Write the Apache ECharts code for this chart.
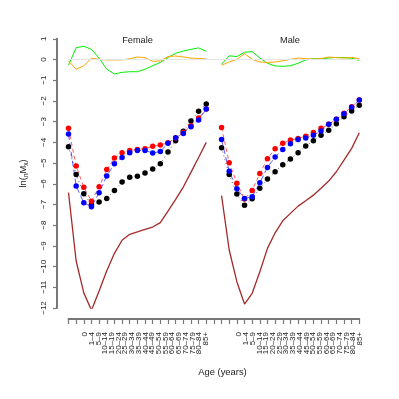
<!DOCTYPE html>
<html>
<head>
<meta charset="utf-8">
<script src="https://cdn.jsdelivr.net/npm/echarts@6/dist/echarts.min.js"></script>
<style>
  html, body { margin: 0; padding: 0; background: #fff; }
  #chart { width: 399px; height: 399px; }
</style>
</head>
<body>
<div id="chart"></div>
<script>
// age groups
var ages = ['0','1\u20134','5\u20139','10\u201314','15\u201319','20\u201324','25\u201329','30\u201334','35\u201339',
  '40\u201344','45\u201349','50\u201354','55\u201359','60\u201364','65\u201369','70\u201374','75\u201379','80\u201384','85+'];

// female panel
var femRed   = [-3.32,-5.14,-6.17,-6.84,-6.15,-5.31,-4.76,-4.5,-4.4,-4.34,-4.31,-4.19,-4.13,-4.02,-3.79,-3.53,-3.2,-2.83,-2.39];
var femBlue  = [-3.6,-6.11,-6.92,-7.11,-6.43,-5.63,-5.03,-4.73,-4.5,-4.4,-4.39,-4.52,-4.44,-4.05,-3.78,-3.57,-3.25,-2.92,-2.39];
var femBlack = [-4.21,-5.55,-6.48,-7.0,-6.88,-6.71,-6.32,-5.92,-5.69,-5.64,-5.48,-5.29,-5.03,-4.47,-3.92,-3.46,-2.97,-2.5,-2.15];
var femBrown = [-6.43,-9.73,-11.27,-12.11,-11.18,-10.2,-9.36,-8.73,-8.44,-8.32,-8.2,-8.09,-7.88,-7.32,-6.75,-6.16,-5.45,-4.73,-4.0];
var femGreen = [-0.27,0.57,0.64,0.49,0.06,-0.47,-0.7,-0.62,-0.59,-0.59,-0.47,-0.3,-0.14,0.1,0.3,0.41,0.49,0.56,0.4];
var femOrange= [-0.07,-0.47,-0.3,0.06,0.01,-0.02,-0.02,-0.02,0.04,0.12,0.09,-0.09,-0.07,0.14,0.17,0.12,0.07,0.05,0.03];

// male panel
var maleRed   = [-3.28,-4.98,-5.97,-6.74,-6.32,-5.5,-4.79,-4.31,-4.05,-3.89,-3.81,-3.7,-3.53,-3.32,-3.13,-2.89,-2.6,-2.28,-1.96];
var maleBlue  = [-3.86,-5.4,-6.24,-6.71,-6.63,-5.95,-5.21,-4.71,-4.34,-4.07,-3.86,-3.79,-3.66,-3.45,-3.13,-2.89,-2.62,-2.31,-1.96];
var maleBlack = [-4.26,-5.55,-6.5,-7.04,-6.72,-6.22,-5.77,-5.42,-5.08,-4.81,-4.5,-4.18,-3.92,-3.66,-3.42,-3.1,-2.76,-2.49,-2.21];
var maleBrown = [-6.57,-9.2,-10.73,-11.81,-11.29,-10.25,-9.12,-8.37,-7.79,-7.43,-7.08,-6.82,-6.55,-6.22,-5.87,-5.42,-4.86,-4.29,-3.54];
var maleGreen = [-0.23,0.18,0.14,0.35,0.38,0.07,-0.18,-0.31,-0.33,-0.3,-0.18,-0.02,0.04,0.04,0.07,0.1,0.09,0.06,-0.04];
var maleOrange= [-0.28,-0.12,0.01,0.28,0.01,-0.12,-0.14,-0.12,-0.06,0.01,0.07,0.04,0.02,0.04,0.12,0.09,0.07,0.1,0.04];

var yTicks = [1,0,-1,-2,-3,-4,-5,-6,-7,-8,-9,-10,-11,-12];

// label axis: female labels, a gap, then male labels
var labelCats = ages.concat(['','','','']).concat(ages);

function pts(vals, start) {
  return vals.map(function (v, i) { return [start + i, v]; });
}

var AXC = '#777';
var TXT = '#222';
var FONT = 'Liberation Sans';

function mk(vals, start, color, opts) {
  var s = {
    type: 'line',
    data: pts(vals, start),
    xAxisIndex: 0, yAxisIndex: 0,
    symbol: 'none',
    silent: true,
    animation: false,
    lineStyle: { color: color, width: 1, type: 'solid' },
    z: 2
  };
  for (var k in opts) s[k] = opts[k];
  return s;
}

function dots(vals, start, color, dash, w) {
  return mk(vals, start, color, {
    symbol: 'circle', symbolSize: 5.5, showSymbol: true,
    itemStyle: { color: color },
    lineStyle: { color: color, width: w, type: dash, opacity: 0.8 },
    z: 3
  });
}

var series = [];
[[0, femGreen, femOrange, femBrown, femBlack, femRed, femBlue],
 [20, maleGreen, maleOrange, maleBrown, maleBlack, maleRed, maleBlue]].forEach(function (p) {
  var st = p[0];
  series.push(mk(p[1], st, '#00ee00'));
  series.push(mk(p[2], st, '#ffa500'));
  series.push(mk(p[3], st, '#a52a2a', { lineStyle: { color: '#a52a2a', width: 1.3 } }));
  series.push(dots(p[4], st, '#000000', [1, 3], 0.8));
  series.push(dots(p[5], st, '#ff0000', [4, 3], 0.8));
  series.push(dots(p[6], st, '#0000ff', [6, 3], 0.8));
});

// light reference line at zero
series.unshift({
  type: 'line', data: [], xAxisIndex: 0, yAxisIndex: 0, silent: true,
  markLine: {
    symbol: 'none', silent: true, label: { show: false },
    lineStyle: { color: '#e4e4e4', width: 1.2, type: 'solid' },
    data: [{ yAxis: 0 }]
  },
  z: 1
});

var chart = echarts.init(document.getElementById('chart'));
chart.setOption({
  animation: false,
  backgroundColor: '#fff',
  textStyle: { fontFamily: FONT },
  grid: [
    { left: 68.5, right: 39.7, top: 38.8, bottom: 91 },
    { left: 85, right: 39, top: 38.8, bottom: 91 }
  ],
  xAxis: [
    {
      type: 'value', gridIndex: 0, min: 0, max: 38, interval: 1, offset: 11,
      axisLine: { show: true, onZero: false, lineStyle: { color: AXC, width: 1.8 } },
      axisTick: { show: true, length: 5, lineStyle: { color: AXC, width: 1.2 } },
      axisLabel: { show: false },
      splitLine: { show: false }
    },
    {
      type: 'category', gridIndex: 1, data: labelCats, boundaryGap: false, offset: 11,
      axisLine: { show: false }, axisTick: { show: false }, splitLine: { show: false },
      axisLabel: { interval: 0, rotate: 90, fontSize: 8, color: TXT, margin: 13, fontFamily: FONT },
      name: 'Age (years)', nameLocation: 'middle', nameGap: 49,
      nameTextStyle: { fontSize: 9.4, color: TXT, fontFamily: FONT }
    }
  ],
  yAxis: [
    {
      type: 'value', gridIndex: 0, position: 'left', min: yTicks[yTicks.length - 1], max: yTicks[0], interval: 1, offset: 11.5,
      axisLine: { show: true, onZero: false, lineStyle: { color: AXC, width: 2 } },
      axisTick: { show: true, length: 4, lineStyle: { color: AXC, width: 1.2 } },
      splitLine: { show: false },
      axisLabel: {
        rotate: 90, fontSize: 8, color: TXT, margin: 9, fontFamily: FONT,
        formatter: function (v) { return String(v).replace('-', '\u2212'); }
      },
      name: '{a|ln(}{s|n}{a|M}{s|x}{a|)}', nameLocation: 'middle', nameRotate: 90, nameGap: 27,
      nameTextStyle: {
        rich: {
          a: { fontSize: 9.4, color: TXT, fontFamily: FONT, lineHeight: 14, verticalAlign: 'middle' },
          s: { fontSize: 6.5, color: TXT, fontFamily: FONT, lineHeight: 14, verticalAlign: 'bottom', padding: [5, 0, 0, 0] }
        }
      }
    },
    { type: 'value', gridIndex: 1, show: false, min: -12, max: 1 }
  ],
  graphic: [
    { type: 'text', x: 137.5, y: 40, style: { text: 'Female', fill: TXT, font: '9.2px "Liberation Sans"', textAlign: 'center', textVerticalAlign: 'middle' } },
    { type: 'text', x: 290, y: 40, style: { text: 'Male', fill: TXT, font: '9.2px "Liberation Sans"', textAlign: 'center', textVerticalAlign: 'middle' } }
  ],
  series: series
});
</script>
</body>
</html>
